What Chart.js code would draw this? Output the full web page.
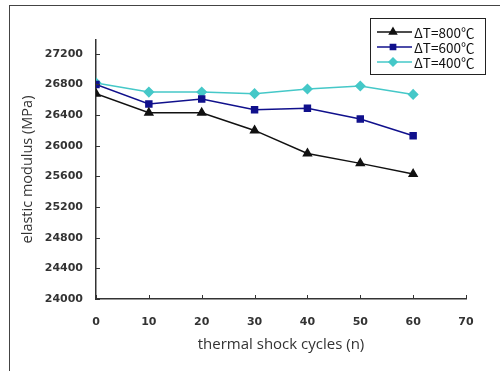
<!DOCTYPE html>
<html>
<head>
<meta charset="utf-8">
<script src="https://cdn.jsdelivr.net/npm/chart.js@4"></script>
<style>
  html, body { margin: 0; padding: 0; background: #fff; }
  #wrap { position: relative; width: 500px; height: 371px; overflow: hidden; }
  #frame { position: absolute; left: 9px; top: 5px; width: 600px; height: 500px;
           border-left: 1.5px solid #444; border-top: 1.5px solid #444; }
  canvas { position: absolute; left: 0; top: 0; }
</style>
</head>
<body>
<div id="wrap">
  <div id="frame"></div>
  <canvas id="chart" width="500" height="371"></canvas>
</div>
<script>
const cycles = [0, 10, 20, 30, 40, 50, 60];
const dT800 = [26680, 26430, 26430, 26200, 25900, 25770, 25630];
const dT600 = [26800, 26545, 26610, 26470, 26490, 26350, 26130];
const dT400 = [26820, 26700, 26700, 26680, 26740, 26780, 26670];
const seriesLabels = ['\u0394T=800\u2103', '\u0394T=600\u2103', '\u0394T=400\u2103'];
const yTicks = [24000, 24400, 24800, 25200, 25600, 26000, 26400, 26800, 27200];
const xTicks = [0, 10, 20, 30, 40, 50, 60, 70];

const TICK_FONT = { family: 'DejaVu Sans', size: 11, weight: 'bold' };

function toPoints(values) {
    return values.map((v, i) => ({ x: cycles[i], y: v }));
}

// short tick marks drawn on the inside of both axes
const innerTicks = {
    id: 'innerTicks',
    afterDraw(chart) {
        const { ctx, chartArea, scales } = chart;
        ctx.save();
        ctx.strokeStyle = '#333';
        ctx.lineWidth = 1;
        yTicks.forEach((v) => {
            const y = Math.round(scales.y.getPixelForValue(v)) + 0.5;
            ctx.beginPath();
            ctx.moveTo(chartArea.left, y);
            ctx.lineTo(chartArea.left + 4, y);
            ctx.stroke();
        });
        xTicks.forEach((v) => {
            const x = Math.round(scales.x.getPixelForValue(v)) + 0.5;
            ctx.beginPath();
            ctx.moveTo(x, chartArea.bottom);
            ctx.lineTo(x, chartArea.bottom - 4);
            ctx.stroke();
        });
        ctx.restore();
    },
};

// boxed legend in the top right corner, line + marker + label
const boxLegend = {
    id: 'boxLegend',
    afterDraw(chart) {
        const { ctx } = chart;
        const box = { x: 370, y: 18, w: 115, h: 56 };
        ctx.save();
        ctx.fillStyle = '#fff';
        ctx.fillRect(box.x, box.y, box.w, box.h);
        ctx.strokeStyle = '#222';
        ctx.lineWidth = 1;
        ctx.strokeRect(box.x + 0.5, box.y + 0.5, box.w, box.h);
        chart.data.datasets.forEach((ds, i) => {
            const y = 32 + i * 15;
            ctx.strokeStyle = ds.borderColor;
            ctx.lineWidth = 1.5;
            ctx.beginPath();
            ctx.moveTo(377, y);
            ctx.lineTo(412, y);
            ctx.stroke();
            ctx.fillStyle = ds.pointBackgroundColor;
            ctx.strokeStyle = ds.pointBackgroundColor;
            Chart.helpers.drawPoint(ctx, {
                pointStyle: ds.pointStyle,
                radius: ds.pointRadius - 0.5,
                borderWidth: 1,
            }, 393, y);
            ctx.fillStyle = '#111';
            ctx.font = '13.5px "Noto Sans CJK SC"';
            ctx.textBaseline = 'middle';
            ctx.fillText(ds.label, 414, y + 1);
        });
        ctx.restore();
    },
};

function makeDataset(label, values, color, pointStyle, radius) {
    return {
        label,
        data: toPoints(values),
        borderColor: color,
        backgroundColor: color,
        pointBackgroundColor: color,
        pointBorderColor: color,
        borderWidth: 1.5,
        pointStyle,
        pointRadius: radius,
        tension: 0,
    };
}

new Chart(document.getElementById('chart').getContext('2d'), {
    type: 'line',
    data: {
        datasets: [
            makeDataset(seriesLabels[0], dT800, '#111111', 'triangle', 4.5),
            makeDataset(seriesLabels[1], dT600, '#10108c', 'rect', 4.2),
            makeDataset(seriesLabels[2], dT400, '#45c8c8', 'rectRot', 4.5),
        ],
    },
    options: {
        responsive: false,
        animation: false,
        layout: { padding: { top: 40, right: 34, left: 0, bottom: 0 } },
        scales: {
            x: {
                type: 'linear',
                min: 0,
                max: 70,
                afterFit: (s) => { s.height = 72; },
                afterBuildTicks: (s) => { s.ticks = xTicks.map((v) => ({ value: v })); },
                grid: { display: false, drawTicks: false },
                border: { display: true, color: '#333', width: 1.5 },
                ticks: { color: '#333', font: TICK_FONT, padding: 17, callback: (v) => String(v) },
                title: {
                    display: true,
                    text: 'thermal shock cycles (n)',
                    color: '#333',
                    font: { family: 'Open Sans', size: 15 },
                    padding: { top: 2, bottom: 17 },
                },
            },
            y: {
                min: 24000,
                max: 27380,
                afterFit: (s) => { s.width = 96; },
                afterBuildTicks: (s) => { s.ticks = yTicks.map((v) => ({ value: v })); },
                grid: { display: false, drawTicks: false },
                border: { display: true, color: '#333', width: 1.5 },
                ticks: { color: '#333', font: TICK_FONT, padding: 13, callback: (v) => String(v) },
                title: {
                    display: true,
                    text: 'elastic modulus (MPa)',
                    color: '#333',
                    font: { family: 'Open Sans', size: 14.5 },
                    padding: { top: 19, bottom: 2 },
                },
            },
        },
        plugins: {
            legend: { display: false },
            tooltip: { enabled: false },
        },
    },
    plugins: [innerTicks, boxLegend],
});
</script>
</body>
</html>
